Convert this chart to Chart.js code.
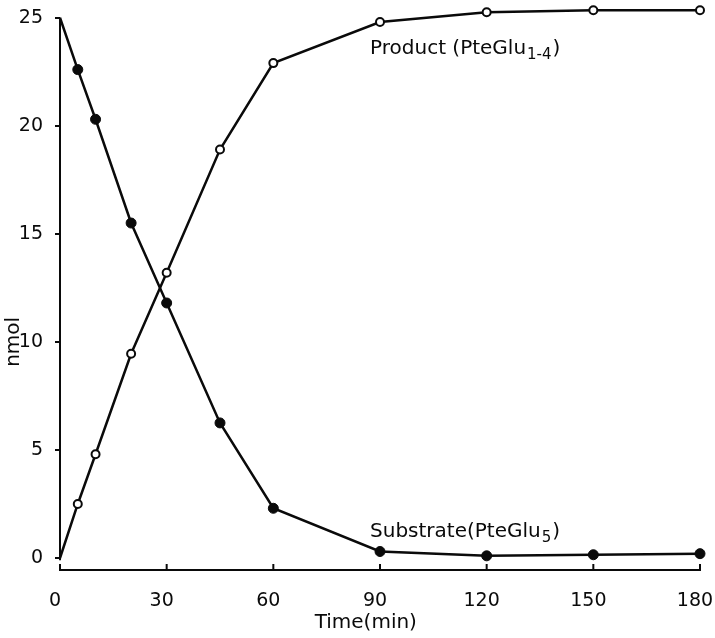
<!DOCTYPE html>
<html>
<head>
<meta charset="utf-8">
<script src="https://cdn.jsdelivr.net/npm/chart.js@4/dist/chart.umd.min.js"></script>
<style>
  body { margin: 0; background: #fff; }
  #wrap { width: 715px; height: 638px; }
</style>
</head>
<body>
<div id="wrap"><canvas id="myChart"></canvas></div>
<script>
// Sampling times (min)
const times = [0, 5, 10, 20, 30, 45, 60, 90, 120, 150, 180];
// nmol of substrate (PteGlu5) and product (PteGlu1-4)
const substrate = [25, 22.6, 20.3, 15.5, 11.8, 6.25, 2.3, 0.3, 0.1, 0.15, 0.2];
const product = [0, 2.5, 4.8, 9.45, 13.2, 18.9, 22.9, 24.8, 25.25, 25.35, 25.35];
const yTicks = [0, 5, 10, 15, 20, 25];
const xTicks = [0, 30, 60, 90, 120, 150, 180];

const ink = '#0a0a0a';
const font = '"DejaVu Sans", sans-serif';

// Text with a subscript part
function subText(ctx, main, sub, tail, x, y) {
    ctx.font = '20px ' + font;
    ctx.fillText(main, x, y);
    x += ctx.measureText(main).width + 1;
    ctx.font = '15px ' + font;
    ctx.fillText(sub, x, y + 5);
    x += ctx.measureText(sub).width + 1;
    ctx.font = '20px ' + font;
    ctx.fillText(tail, x, y);
}

// Y axis line, inward x ticks, curve labels and axis titles
const annotate = {
    id: 'annotate',
    afterDraw(chart) {
        const { ctx, scales: { x, y } } = chart;
        ctx.save();
        ctx.strokeStyle = ink;
        ctx.lineWidth = 2;
        ctx.beginPath();
        ctx.moveTo(x.left, y.getPixelForValue(25));
        ctx.lineTo(x.left, y.getPixelForValue(-0.1));
        ctx.stroke();
        x.ticks.forEach(t => {
            const px = x.getPixelForValue(t.value);
            ctx.beginPath();
            ctx.moveTo(px, y.bottom);
            ctx.lineTo(px, y.bottom - 6);
            ctx.stroke();
        });

        ctx.fillStyle = ink;
        ctx.textAlign = 'left';
        ctx.textBaseline = 'alphabetic';
        subText(ctx, 'Product (PteGlu', '1-4', ')', x.getPixelForValue(87.2), y.getPixelForValue(23.3));
        subText(ctx, 'Substrate(PteGlu', '5', ')', x.getPixelForValue(87.2), y.getPixelForValue(0.97));

        ctx.font = '20px ' + font;
        ctx.textAlign = 'center';
        ctx.textBaseline = 'middle';
        ctx.fillText('Time(min)', x.getPixelForValue(86), y.bottom + 53);

        ctx.translate(14, y.getPixelForValue(10));
        ctx.rotate(-Math.PI / 2);
        ctx.fillText('nmol', 0, 0);
        ctx.restore();
    }
};

const ctx = document.getElementById('myChart').getContext('2d');
new Chart(ctx, {
    type: 'line',
    data: {
        datasets: [
            {
                label: 'Substrate',
                data: times.map((t, i) => ({ x: t, y: substrate[i] })),
                borderColor: ink,
                backgroundColor: ink,
                borderWidth: 2.5,
                pointRadius: times.map((t, i) => i === 0 ? 0 : 5),
                pointBorderWidth: 1,
                pointBackgroundColor: ink,
                pointBorderColor: ink,
                tension: 0,
                clip: false
            },
            {
                label: 'Product',
                data: times.map((t, i) => ({ x: t, y: product[i] })),
                borderColor: ink,
                backgroundColor: '#fff',
                borderWidth: 2.5,
                pointRadius: times.map((t, i) => i === 0 ? 0 : 4),
                pointBorderWidth: 2,
                pointBackgroundColor: '#fff',
                pointBorderColor: ink,
                tension: 0,
                clip: false
            }
        ]
    },
    options: {
        responsive: true,
        maintainAspectRatio: false,
        animation: false,
        layout: { padding: { top: 8, right: 15, left: 0, bottom: 0 } },
        plugins: {
            legend: { display: false },
            tooltip: { enabled: false }
        },
        scales: {
            x: {
                type: 'linear',
                min: 0,
                max: 180,
                afterBuildTicks: s => { s.ticks = xTicks.map(v => ({ value: v })); },
                afterFit: s => { s.height = 68; s.paddingLeft = 0; s.paddingRight = 0; },
                grid: { display: false, drawTicks: false },
                border: { display: true, color: ink, width: 2 },
                ticks: {
                    color: ink,
                    padding: 20,
                    labelOffset: -5,
                    maxRotation: 0,
                    font: { family: font, size: 19 }
                }
            },
            y: {
                min: -0.556,
                max: 25.45,
                afterBuildTicks: s => { s.ticks = yTicks.map(v => ({ value: v })); },
                afterFit: s => { s.width = 60; s.paddingTop = 0; s.paddingBottom = 0; },
                grid: { drawOnChartArea: false, drawTicks: true, tickLength: 5, color: ink, lineWidth: 2 },
                border: { display: false },
                ticks: {
                    color: ink,
                    padding: 12,
                    font: { family: font, size: 19 }
                }
            }
        }
    },
    plugins: [annotate]
});
</script>
</body>
</html>
